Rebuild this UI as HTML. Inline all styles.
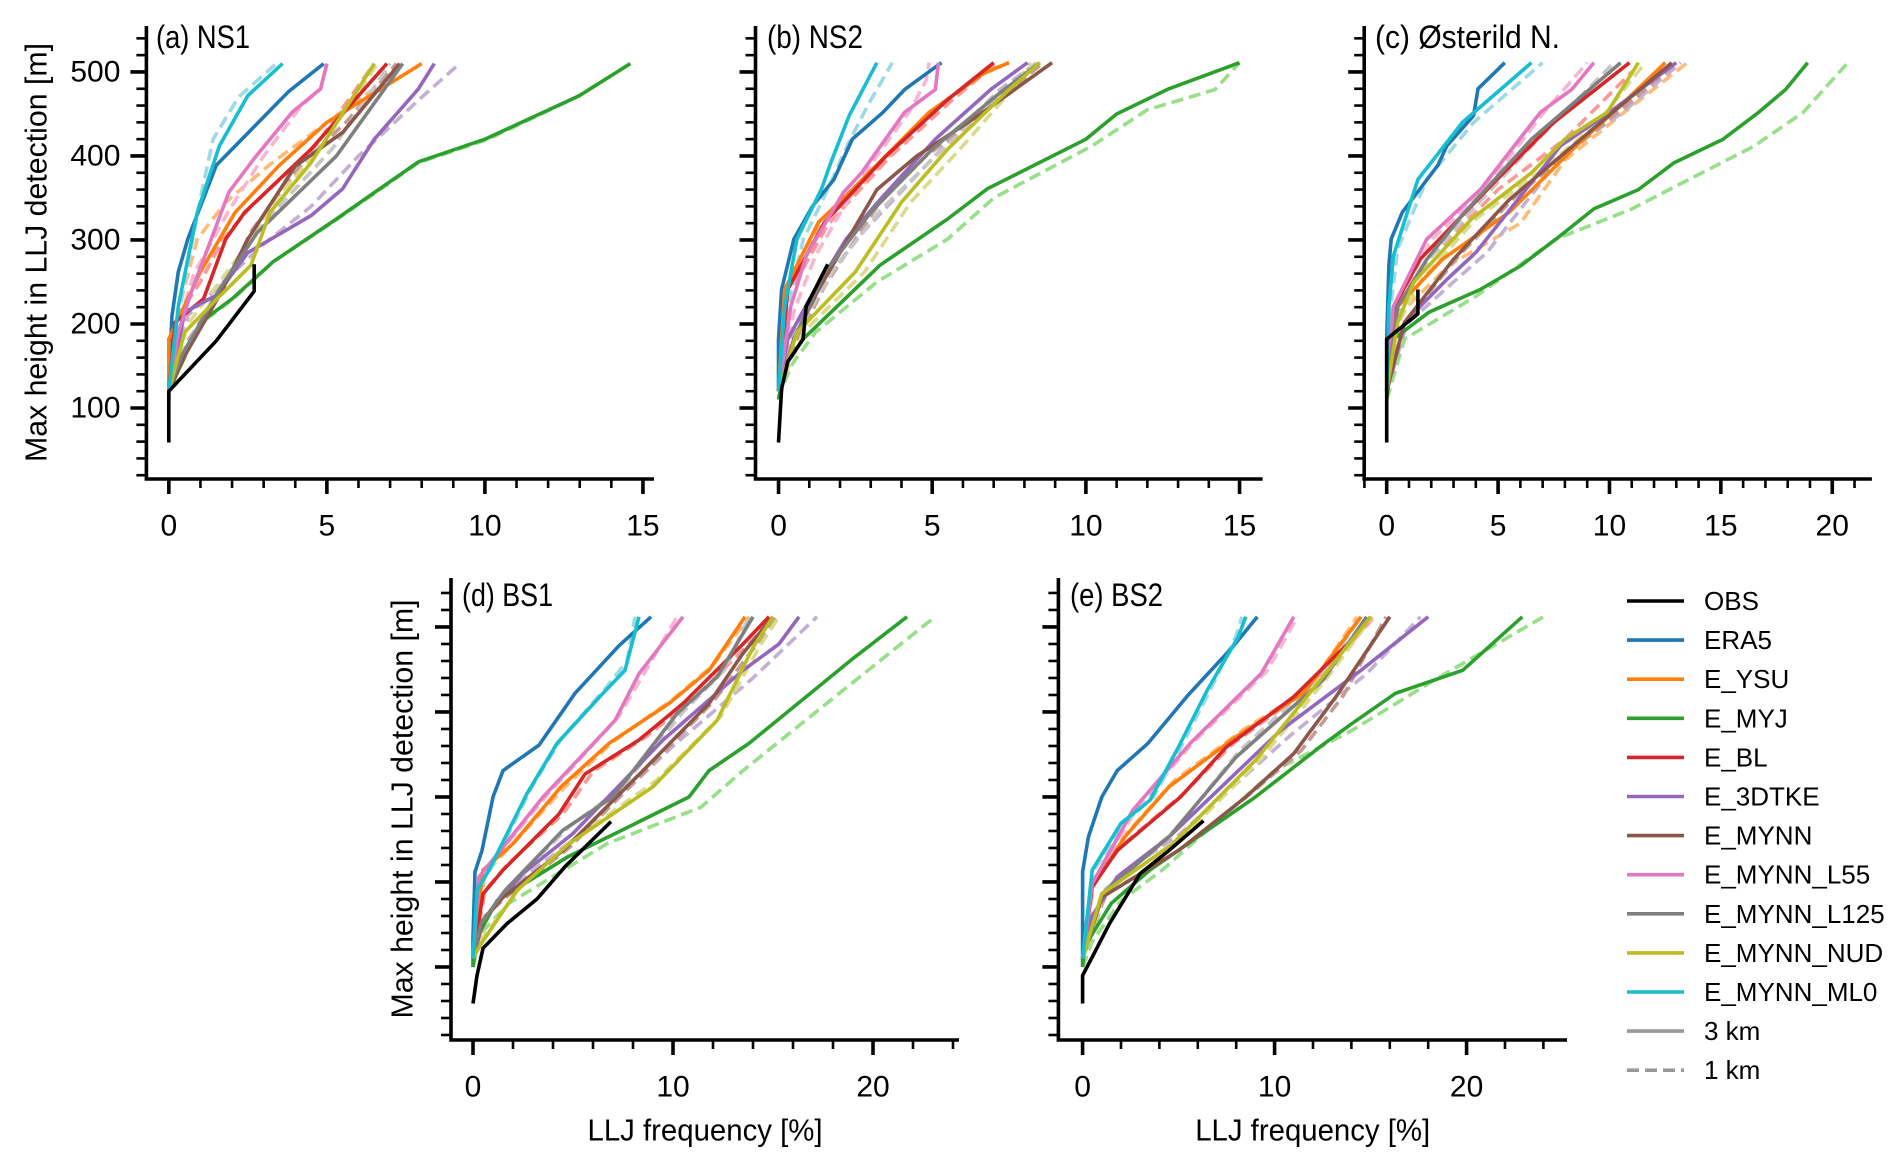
<!DOCTYPE html>
<html><head><meta charset="utf-8"><style>
html,body{margin:0;padding:0;background:#fff;}
svg{display:block;font-family:"Liberation Sans",sans-serif;}
</style></head><body>
<svg id="fig" xmlns="http://www.w3.org/2000/svg" width="1892" height="1167" viewBox="0 0 1892 1167"></svg>
<script>
// ---------- data: [frequency %, height m] ----------
const NS1_obs=[[0,59],[0,120],[1.5,180],[2.7,239],[2.7,271]];
const NS1_era5=[[0,120],[0,134],[0.1,210],[0.3,262],[0.6,301],[1.5,389],[3.8,477],[4.9,510]];
const NS1_ysu=[[0,120],[0,182],[1.0,262],[2.1,333],[3.5,389],[5.0,440],[8.0,510]];
const NS1_myj=[[0,110],[0,120],[1.0,202],[2.0,230],[3.3,274],[5.3,325],[7.9,393],[10.0,420],[13.0,472],[14.6,510]];
const NS1_bl=[[0,120],[0.2,202],[1.1,230],[1.8,301],[2.4,333],[4.5,408],[6.9,510]];
const NS1_tke=[[0,120],[0.5,214],[1.5,234],[2.5,285],[4.5,329],[5.5,361],[6.5,420],[7.9,480],[8.4,510]];
const NS1_mynn=[[0,120],[0.5,162],[1.6,234],[2.5,301],[4.0,388],[5.5,428],[7.3,510]];
const NS1_l55=[[0,120],[0.3,190],[0.7,237],[1.9,357],[2.7,397],[3.9,452],[4.8,480],[5.0,510]];
const NS1_l125=[[0,120],[0.4,162],[1.6,241],[2.8,309],[5.3,400],[7.4,510]];
const NS1_nud=[[0,120],[0.5,190],[1.5,229],[2.6,270],[3.2,333],[4.5,392],[6.5,510]];
const NS1_ml0=[[0,120],[0.3,221],[0.9,333],[1.6,412],[2.5,472],[3.6,510]];
const NS1_ysu1=[[0,120],[0.4,230],[0.9,301],[1.8,345],[3.2,390],[5.0,440],[6.5,480],[7.3,510]];
const NS1_myj1=[[0,110],[0,120],[1.0,200],[2.1,232],[3.3,274],[5.3,324],[7.9,392],[10.1,420],[12.9,470],[14.6,510]];
const NS1_bl1=[[0,120],[0.3,210],[1.0,250],[1.7,300],[2.6,340],[4.6,410],[6.5,510]];
const NS1_tke1=[[0,120],[0.6,210],[2.0,260],[3.0,295],[4.5,340],[6.0,400],[8.0,470],[9.2,510]];
const NS1_mynn1=[[0,120],[0.6,180],[1.7,240],[2.6,310],[4.2,390],[5.6,440],[7.2,510]];
const NS1_l551=[[0,120],[0.3,200],[0.8,260],[1.9,335],[3.0,400],[4.2,460],[4.8,480],[5.0,510]];
const NS1_l1251=[[0,120],[0.5,170],[1.7,250],[3.0,320],[5.2,410],[7.0,510]];
const NS1_nud1=[[0,120],[0.6,200],[1.4,240],[2.4,290],[3.4,350],[4.8,410],[6.6,510]];
const NS1_ml01=[[0,120],[0.4,230],[1.0,350],[1.4,420],[2.2,470],[3.4,510]];

const NS2_obs=[[0,59],[0.1,123],[0.3,155],[0.8,182],[0.9,221],[1.6,271]];
const NS2_era5=[[0,120],[0,182],[0.1,241],[0.5,301],[1.1,340],[1.8,372],[2.4,420],[3.4,452],[4.1,479],[5.3,511]];
const NS2_ysu=[[0,120],[0.2,241],[1.3,321],[2.4,360],[4.9,452],[6.7,499],[7.5,511]];
const NS2_myj=[[0,110],[0.2,150],[0.8,182],[3.3,270],[5.5,325],[6.8,361],[10.0,420],[11.0,450],[12.7,480],[15.0,511]];
const NS2_bl=[[0,120],[0.3,241],[1.5,321],[3.5,400],[5.5,467],[7.0,511]];
const NS2_tke=[[0,120],[0.3,182],[1.0,229],[2.2,301],[3.4,352],[5.1,420],[6.9,479],[8.1,511]];
const NS2_mynn=[[0,120],[0.5,182],[1.3,241],[3.2,360],[4.5,400],[6.5,448],[8.9,511]];
const NS2_l55=[[0,120],[0.4,221],[0.9,281],[2.1,356],[2.7,380],[4.1,452],[5.1,479],[5.2,511]];
const NS2_l125=[[0,120],[0.5,182],[1.5,261],[3.0,333],[5.0,408],[7.2,475],[8.5,511]];
const NS2_nud=[[0,120],[0.6,190],[2.5,262],[4.0,345],[5.5,408],[7.5,479],[8.5,511]];
const NS2_ml0=[[0,120],[0.2,221],[0.6,301],[1.4,361],[1.7,392],[2.3,448],[3.2,511]];
const NS2_ysu1=[[0,120],[0.3,235],[1.4,320],[2.6,360],[4.8,448],[6.5,495],[7.5,511]];
const NS2_myj1=[[0,110],[0.4,150],[1.2,190],[3.2,250],[5.5,301],[7.0,350],[10.2,412],[12.0,455],[14.2,479],[15.0,511]];
const NS2_bl1=[[0,120],[0.4,240],[1.6,318],[3.6,398],[5.6,465],[7.1,511]];
const NS2_tke1=[[0,120],[0.4,182],[1.2,235],[2.5,300],[3.8,350],[5.6,420],[7.2,479],[8.4,511]];
const NS2_mynn1=[[0,120],[0.6,180],[1.5,245],[3.3,345],[4.8,400],[6.8,455],[8.6,511]];
const NS2_l551=[[0,120],[0.5,215],[1.2,281],[2.3,350],[3.2,400],[4.3,455],[4.8,490],[4.9,511]];
const NS2_l1251=[[0,120],[0.6,190],[1.8,265],[3.3,335],[5.4,410],[7.4,478],[8.4,511]];
const NS2_nud1=[[0,120],[0.8,190],[2.8,262],[4.3,345],[5.9,408],[7.6,479],[8.2,511]];
const NS2_ml01=[[0,120],[0.3,221],[0.8,300],[1.6,360],[2.2,410],[2.9,460],[3.7,511]];

const OST_obs=[[0,59],[0,182],[1.4,212],[1.4,241]];
const OST_era5=[[0,120],[0,182],[0.1,270],[0.2,301],[0.7,333],[1.5,361],[2.3,389],[2.7,412],[3.9,448],[4.1,480],[5.3,511]];
const OST_ysu=[[0,120],[0.5,221],[2.5,277],[5.5,333],[8.5,412],[10.5,460],[12.5,511]];
const OST_myj=[[0,110],[0.3,182],[1.9,214],[4.2,241],[6.0,269],[7.6,301],[9.3,337],[11.3,360],[12.9,392],[15.1,420],[16.7,452],[17.9,479],[18.9,511]];
const OST_bl=[[0,120],[0.5,229],[1.5,277],[4.8,368],[7.5,440],[10.9,511]];
const OST_tke=[[0,120],[0.8,202],[2.7,253],[4.0,285],[7.8,412],[10.0,452],[13.0,511]];
const OST_mynn=[[0,120],[0.8,202],[3.0,277],[5.5,348],[8.0,404],[11.0,471],[12.8,511]];
const OST_l55=[[0,120],[0.3,221],[1.8,301],[4.2,360],[6.9,452],[8.3,479],[9.3,511]];
const OST_l125=[[0,120],[0.5,221],[1.8,277],[3.5,333],[6.5,420],[10.5,511]];
const OST_nud=[[0,120],[0.5,202],[1.2,249],[3.8,325],[6.5,380],[8.0,420],[9.9,452],[11.3,511]];
const OST_ml0=[[0,120],[0.1,221],[0.3,281],[1.4,372],[3.4,440],[6.5,511]];
const OST_ysu1=[[0,120],[0.7,215],[2.8,270],[6.0,320],[8.0,395],[10.8,455],[13.5,511]];
const OST_myj1=[[0,110],[0.8,182],[4.0,233],[7.6,301],[11.0,337],[16.5,412],[18.7,452],[20.7,511]];
const OST_bl1=[[0,120],[0.6,225],[1.8,275],[5.0,360],[8.0,420],[11.0,500]];
const OST_tke1=[[0,120],[0.9,200],[3.0,250],[4.5,285],[8.0,405],[10.5,450],[13.2,511]];
const OST_mynn1=[[0,120],[0.9,205],[3.2,280],[5.7,350],[8.2,405],[11.2,470],[13.0,511]];
const OST_l551=[[0,120],[0.4,220],[2.0,300],[4.4,360],[7.0,450],[9.0,511]];
const OST_l1251=[[0,120],[0.6,225],[2.0,280],[3.8,335],[6.8,420],[10.2,511]];
const OST_nud1=[[0,120],[0.6,205],[1.5,250],[4.0,325],[6.8,380],[9.5,440],[11.6,511]];
const OST_ml01=[[0,120],[0.2,225],[0.5,290],[1.8,372],[3.9,440],[7.0,511]];

const BS1_obs=[[0,57],[0.2,90],[0.5,122],[1.7,151],[3.2,180],[4.6,218],[6.9,271]];
const BS1_era5=[[0,100],[0,135],[0.1,212],[0.45,237],[1.0,300],[1.5,331],[3.3,361],[5.1,422],[7.3,478],[8.9,512]];
const BS1_ysu=[[0,110],[0.5,214],[2.0,245],[4.4,312],[6.8,363],[9.8,410],[11.8,449],[13.6,512]];
const BS1_myj=[[0,100],[0.2,135],[1.2,178],[4.7,229],[10.8,300],[11.8,331],[13.8,363],[18.9,461],[21.7,512]];
const BS1_bl=[[0,110],[0.5,186],[1.5,214],[4.3,280],[5.6,327],[8.3,367],[10.5,410],[13.5,480],[14.8,512]];
const BS1_tke=[[0,110],[0.5,155],[2.5,210],[5.0,257],[9.5,367],[13.5,449],[15.3,480],[16.3,512]];
const BS1_mynn=[[0,110],[0.5,155],[1.5,182],[4.5,237],[8.5,331],[11.8,410],[13.5,469],[15.0,512]];
const BS1_l55=[[0,110],[0.3,206],[1.5,241],[3.5,300],[7.1,390],[8.3,445],[10.5,512]];
const BS1_l125=[[0,110],[0.4,151],[1.6,190],[4.5,261],[7.0,300],[10.2,398],[12.2,441],[14.0,512]];
const BS1_nud=[[0,110],[0.4,127],[2.2,190],[4.8,245],[9.0,312],[12.2,390],[14.0,476],[15.0,512]];
const BS1_ml0=[[0,110],[0.2,190],[0.8,214],[2.7,304],[4.2,363],[6.5,422],[7.6,449],[8.3,512]];
const BS1_ysu1=[[0,110],[0.6,210],[2.2,250],[4.6,312],[7.0,365],[10.0,415],[12.0,455],[13.8,512]];
const BS1_myj1=[[0,100],[0.4,140],[1.8,175],[6.7,245],[11.4,288],[13.5,331],[18.1,418],[23.1,512]];
const BS1_bl1=[[0,110],[0.6,190],[1.7,220],[4.5,280],[6.0,330],[8.6,370],[11,415],[13.8,480],[15.0,512]];
const BS1_tke1=[[0,110],[0.6,160],[2.8,210],[5.3,255],[10.0,360],[14.0,440],[17.2,512]];
const BS1_mynn1=[[0,110],[0.6,160],[1.8,185],[4.8,240],[8.8,335],[12.0,412],[14.2,480],[15.2,512]];
const BS1_l551=[[0,110],[0.4,210],[1.7,245],[3.8,305],[7.3,395],[8.8,455],[10.2,512]];
const BS1_l1251=[[0,110],[0.5,155],[1.8,195],[4.8,265],[7.4,310],[10.5,400],[12.6,450],[13.8,512]];
const BS1_nud1=[[0,110],[0.5,135],[2.4,195],[5.0,250],[9.2,320],[12.4,395],[14.4,480],[15.3,512]];
const BS1_ml01=[[0,110],[0.3,195],[1.0,220],[2.9,310],[4.4,368],[6.7,430],[7.7,460],[8.1,512]];

const BS2_obs=[[0,57],[0,90],[0.6,116],[1.4,151],[3.0,210],[4.5,237],[6.3,272]];
const BS2_era5=[[0,100],[0,135],[0,212],[0.3,253],[1.0,300],[1.8,331],[3.4,363],[5.5,420],[7.8,476],[9.1,512]];
const BS2_ysu=[[0,110],[0.5,194],[2.2,253],[4.5,312],[8.0,371],[11.5,422],[14.5,512]];
const BS2_myj=[[0,100],[0.1,124],[1.5,175],[3.5,214],[9.0,300],[12.6,363],[14.0,386],[16.3,422],[19.8,449],[22.9,512]];
const BS2_bl=[[0,110],[0.5,194],[1.8,237],[5.1,300],[7.5,359],[11.0,418],[13.8,480],[15.0,512]];
const BS2_tke=[[0,110],[0.5,160],[1.8,206],[4.5,253],[10.3,378],[14.5,449],[18.0,512]];
const BS2_mynn=[[0,110],[1.0,182],[5.0,237],[8.5,300],[11.0,351],[13.2,418],[16.0,512]];
const BS2_l55=[[0,110],[0.5,198],[2.6,284],[5.6,363],[9.3,445],[11.0,512]];
const BS2_l125=[[0,110],[1.0,186],[4.5,253],[8.0,347],[12.5,437],[14.8,512]];
const BS2_nud=[[0,110],[1.0,186],[4.7,245],[9.0,343],[12.5,441],[15.0,512]];
const BS2_ml0=[[0,110],[0.5,214],[2.0,269],[3.5,296],[5.0,359],[6.5,426],[8.1,488],[8.5,512]];
const BS2_ysu1=[[0,110],[0.6,200],[2.4,260],[4.8,320],[8.3,378],[11.8,428],[14.3,512]];
const BS2_myj1=[[0,100],[0.5,130],[2.0,178],[4.2,215],[10.0,331],[14.0,378],[18.5,440],[24.0,512]];
const BS2_bl1=[[0,110],[0.6,200],[2.0,242],[5.3,305],[7.8,362],[11.3,420],[14.0,482],[15.2,512]];
const BS2_tke1=[[0,110],[0.7,165],[2.0,210],[5.0,255],[10.8,372],[14.8,445],[17.6,512]];
const BS2_mynn1=[[0,110],[1.2,185],[5.2,240],[8.8,305],[11.4,355],[13.6,420],[15.8,512]];
const BS2_l551=[[0,110],[0.6,200],[2.8,286],[5.8,365],[9.6,448],[11.2,512]];
const BS2_l1251=[[0,110],[1.1,190],[4.8,260],[8.2,355],[12.3,440],[14.5,512]];
const BS2_nud1=[[0,110],[1.2,190],[5.0,248],[9.3,345],[12.8,442],[15.1,512]];
const BS2_ml01=[[0,110],[0.6,214],[2.2,270],[3.7,300],[5.2,362],[6.7,428],[8.0,490],[8.3,512]];

const legendLabels=["OBS","ERA5","E_YSU","E_MYJ","E_BL","E_3DTKE","E_MYNN","E_MYNN_L55","E_MYNN_L125","E_MYNN_NUD","E_MYNN_ML0","3 km","1 km"];
const yTickLabels=[100,200,300,400,500];

// ---------- styles ----------
const keys=["obs","era5","ysu","myj","bl","tke","mynn","l55","l125","nud","ml0"];
const dark={obs:"#000000",era5:"#1f77b4",ysu:"#ff7f0e",myj:"#2ca02c",bl:"#d62728",tke:"#9467bd",mynn:"#8c564b",l55:"#e377c2",l125:"#7f7f7f",nud:"#bcbd22",ml0:"#17becf"};
const light={ysu:"#ffbb78",myj:"#98df8a",bl:"#ff9896",tke:"#c5b0d5",mynn:"#c49c94",l55:"#f7b6d2",l125:"#c7c7c7",nud:"#dbdb8d",ml0:"#9edae5"};
const D={
 NS1:{obs:NS1_obs,era5:NS1_era5,ysu:NS1_ysu,myj:NS1_myj,bl:NS1_bl,tke:NS1_tke,mynn:NS1_mynn,l55:NS1_l55,l125:NS1_l125,nud:NS1_nud,ml0:NS1_ml0,
  d:{ysu:NS1_ysu1,myj:NS1_myj1,bl:NS1_bl1,tke:NS1_tke1,mynn:NS1_mynn1,l55:NS1_l551,l125:NS1_l1251,nud:NS1_nud1,ml0:NS1_ml01}},
 NS2:{obs:NS2_obs,era5:NS2_era5,ysu:NS2_ysu,myj:NS2_myj,bl:NS2_bl,tke:NS2_tke,mynn:NS2_mynn,l55:NS2_l55,l125:NS2_l125,nud:NS2_nud,ml0:NS2_ml0,
  d:{ysu:NS2_ysu1,myj:NS2_myj1,bl:NS2_bl1,tke:NS2_tke1,mynn:NS2_mynn1,l55:NS2_l551,l125:NS2_l1251,nud:NS2_nud1,ml0:NS2_ml01}},
 OST:{obs:OST_obs,era5:OST_era5,ysu:OST_ysu,myj:OST_myj,bl:OST_bl,tke:OST_tke,mynn:OST_mynn,l55:OST_l55,l125:OST_l125,nud:OST_nud,ml0:OST_ml0,
  d:{ysu:OST_ysu1,myj:OST_myj1,bl:OST_bl1,tke:OST_tke1,mynn:OST_mynn1,l55:OST_l551,l125:OST_l1251,nud:OST_nud1,ml0:OST_ml01}},
 BS1:{obs:BS1_obs,era5:BS1_era5,ysu:BS1_ysu,myj:BS1_myj,bl:BS1_bl,tke:BS1_tke,mynn:BS1_mynn,l55:BS1_l55,l125:BS1_l125,nud:BS1_nud,ml0:BS1_ml0,
  d:{ysu:BS1_ysu1,myj:BS1_myj1,bl:BS1_bl1,tke:BS1_tke1,mynn:BS1_mynn1,l55:BS1_l551,l125:BS1_l1251,nud:BS1_nud1,ml0:BS1_ml01}},
 BS2:{obs:BS2_obs,era5:BS2_era5,ysu:BS2_ysu,myj:BS2_myj,bl:BS2_bl,tke:BS2_tke,mynn:BS2_mynn,l55:BS2_l55,l125:BS2_l125,nud:BS2_nud,ml0:BS2_ml0,
  d:{ysu:BS2_ysu1,myj:BS2_myj1,bl:BS2_bl1,tke:BS2_tke1,mynn:BS2_mynn1,l55:BS2_l551,l125:BS2_l1251,nud:BS2_nud1,ml0:BS2_ml01}}
};
const panels=[
 {id:"NS1",title:"(a) NS1",tw:94,left:146.4,right:654,xmin:-0.71,xmax:15.35,top:26,bottom:479,ymin:15.5,ymax:554.7,major:5,minor:1,ylab:true,ytl:true,xlab:false,tx:156,ty:48},
 {id:"NS2",title:"(b) NS2",tw:96,left:755.5,right:1262.6,xmin:-0.75,xmax:15.75,top:26,bottom:479,ymin:15.5,ymax:554.7,major:5,minor:1,ylab:false,ytl:false,xlab:false,tx:767,ty:48},
 {id:"OST",title:"(c) Østerild N.",tw:185,left:1364.2,right:1871.9,xmin:-1.01,xmax:21.78,top:26,bottom:479,ymin:15.5,ymax:554.7,major:5,minor:1,ylab:false,ytl:false,xlab:false,tx:1375,ty:48},
 {id:"BS1",title:"(d) BS1",tw:91,left:451,right:959,xmin:-1.1,xmax:24.3,top:578,bottom:1040,ymin:14.1,ymax:557.6,major:10,minor:2,ylab:true,ytl:false,xlab:true,tx:462,ty:606},
 {id:"BS2",title:"(e) BS2",tw:93,left:1058.4,right:1567,xmin:-1.26,xmax:25.23,top:578,bottom:1040,ymin:14.1,ymax:557.6,major:10,minor:2,ylab:false,ytl:false,xlab:true,tx:1070,ty:606}
];
const NS="http://www.w3.org/2000/svg";
const svg=document.getElementById("fig");
function mk(tag,attrs,parent){const e=document.createElementNS(NS,tag);for(const k in attrs)e.setAttribute(k,attrs[k]);(parent||svg).appendChild(e);return e;}

panels.forEach(p=>{
  const g=mk("g",{});
  
  
  const X=v=>p.left+(v-p.xmin)/(p.xmax-p.xmin)*(p.right-p.left);
  const Y=v=>p.bottom-(v-p.ymin)/(p.ymax-p.ymin)*(p.bottom-p.top);
  const pts=arr=>arr.map(q=>X(q[0]).toFixed(1)+","+Y(q[1]).toFixed(1)).join(" ");
  const sd=D[p.id];
  keys.forEach(k=>{
    if(!sd.d[k])return;
    const l=mk("polyline",{points:pts(sd.d[k]),fill:"none",stroke:light[k],"stroke-width":3.6,"stroke-dasharray":"12 6","stroke-linejoin":"round"},g);
    
    
  });
  keys.slice(1).concat(["obs"]).forEach(k=>{
    const l=mk("polyline",{points:pts(sd[k]),fill:"none",stroke:dark[k],"stroke-width":3.6,"stroke-linejoin":"round"},g);
    
    
  });
  const sp=mk("path",{d:`M${p.left},${p.top}V${p.bottom}H${p.right}`,fill:"none",stroke:"#000","stroke-width":3.6},g);
  
  
  for(let v=Math.ceil(p.xmin/p.minor)*p.minor; v<=p.xmax+1e-9; v+=p.minor){
    const isMaj=Math.abs(v/p.major-Math.round(v/p.major))<1e-6;
    const x=X(v);
    const t=mk("line",{x1:x,x2:x,y1:p.bottom,y2:p.bottom+(isMaj?15:9),stroke:"#000","stroke-width":isMaj?3.6:2.6},g);
    
    
    if(isMaj && v>=0){
      const tl=mk("text",{x:x,y:p.bottom+47,"text-anchor":"middle","dominant-baseline":"central","font-size":30},g);
      tl.textContent=String(Math.round(v));
      
      
    }
  }
  for(let v=20; v<=p.ymax; v+=20){
    const isMaj=v%100===0;
    const y=Y(v);
    const t=mk("line",{x1:p.left-(isMaj?16:10),x2:p.left,y1:y,y2:y,stroke:"#000","stroke-width":isMaj?3.6:2.6},g);
    
    
  }
  if(p.ytl){
    yTickLabels.forEach(v=>{
      const tl=mk("text",{x:p.left-26,y:Y(v),"text-anchor":"end","dominant-baseline":"central","font-size":30},g);
      tl.textContent=String(v);
      
      
    });
  }
  if(p.ylab){
    const cx=p.id==="NS1"?36:402, cy=(p.top+p.bottom)/2;
    const yl=mk("text",{x:cx,y:cy,"text-anchor":"middle","dominant-baseline":"central","font-size":31,textLength:419,lengthAdjust:"spacingAndGlyphs",transform:`rotate(-90 ${cx} ${cy})`},g);
    yl.textContent="Max height in LLJ detection [m]";
    
    
  }
  if(p.xlab){
    const cx=(p.left+p.right)/2;
    const xl=mk("text",{x:cx,y:1130,"text-anchor":"middle","dominant-baseline":"central","font-size":31,textLength:235,lengthAdjust:"spacingAndGlyphs"},g);
    xl.textContent="LLJ frequency [%]";
    
    
  }
  const tt=mk("text",{x:p.tx,y:p.ty,"font-size":32,textLength:p.tw,lengthAdjust:"spacingAndGlyphs"},g);
  tt.textContent=p.title;
  
  
});

const lg=mk("g",{});


const legendColors=["#000000","#1f77b4","#ff7f0e","#2ca02c","#d62728","#9467bd","#8c564b","#e377c2","#7f7f7f","#bcbd22","#17becf","#999999","#999999"];
legendLabels.forEach((lab,i)=>{
  const y=601+i*39.1;
  const ln=mk("line",{x1:1627,x2:1684,y1:y,y2:y,stroke:legendColors[i],"stroke-width":3.6},lg);
  if(i===12) ln.setAttribute("stroke-dasharray","12 6");
  
  
  const tx=mk("text",{x:1704,y:y,"dominant-baseline":"central","font-size":26},lg);
  tx.textContent=lab;
  
  
});
</script>
</body></html>
